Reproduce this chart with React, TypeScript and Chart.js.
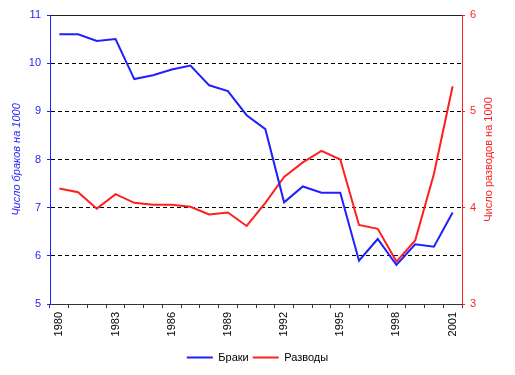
import React, { useEffect, useRef } from "react";
import { Chart, registerables } from "chart.js";

Chart.register(...registerables);

const years = [
  "1980", "1981", "1982", "1983", "1984", "1985", "1986", "1987", "1988", "1989", "1990",
  "1991", "1992", "1993", "1994", "1995", "1996", "1997", "1998", "1999", "2000", "2001",
];
const marriages = [
  10.6, 10.6, 10.46, 10.5, 9.67, 9.75, 9.87, 9.95, 9.54, 9.42, 8.92,
  8.63, 7.11, 7.44, 7.31, 7.31, 5.9, 6.35, 5.81, 6.24, 6.19, 6.9,
];
const divorces = [
  4.2, 4.16, 3.99, 4.14, 4.05, 4.03, 4.03, 4.01, 3.93, 3.95, 3.81,
  4.05, 4.32, 4.47, 4.59, 4.5, 3.82, 3.78, 3.44, 3.66, 4.35, 5.26,
];
const leftTitle = "Число браков на 1000";
const rightTitle = "Число разводов на 1000";
const seriesNames = ["Браки", "Разводы"];

const BLUE = "#1f1fff";
const RED = "#ff1f1f";
const FONT = "'Liberation Sans', Arial, sans-serif";

const framePlugin = {
  id: "frame",
  afterDraw(chart: any) {
    const { ctx, chartArea } = chart;
    ctx.save();
    ctx.strokeStyle = "#222";
    ctx.lineWidth = 1;
    ctx.beginPath();
    ctx.moveTo(chartArea.left, chartArea.top + 0.5);
    ctx.lineTo(chartArea.right, chartArea.top + 0.5);
    ctx.stroke();
    // right axis title, reading bottom-to-top
    ctx.fillStyle = RED;
    ctx.font = `11px ${FONT}`;
    ctx.textAlign = "center";
    ctx.textBaseline = "middle";
    ctx.translate(489, (chartArea.top + chartArea.bottom) / 2);
    ctx.rotate(-Math.PI / 2);
    ctx.fillText(rightTitle, 0, 0);
    ctx.restore();
  },
};

export default function App() {
  const ref = useRef<HTMLCanvasElement | null>(null);
  useEffect(() => {
    if (!ref.current) return;
    const chart = new Chart(ref.current, {
      type: "line",
      data: {
        labels: years,
        datasets: [
          {
            label: seriesNames[0],
            data: marriages,
            borderColor: BLUE,
            backgroundColor: BLUE,
            borderWidth: 2,
            pointRadius: 0,
            tension: 0,
            yAxisID: "y",
          },
          {
            label: seriesNames[1],
            data: divorces,
            borderColor: RED,
            backgroundColor: RED,
            borderWidth: 2,
            pointRadius: 0,
            tension: 0,
            yAxisID: "y2",
          },
        ],
      },
      options: {
        responsive: false,
        animation: false,
        layout: { padding: { top: 15, left: 0, right: 0, bottom: 2 } },
        plugins: {
          legend: {
            position: "bottom",
            labels: {
              usePointStyle: true,
              pointStyle: "line",
              pointStyleWidth: 26,
              color: "#000",
              font: { family: FONT, size: 11 },
              padding: 4,
            },
          },
          tooltip: { enabled: false },
        },
        scales: {
          x: {
            offset: true,
            grid: {
              offset: true,
              drawOnChartArea: false,
              tickLength: 4,
              tickColor: "#333",
            },
            border: { color: "#333", width: 1 },
            ticks: {
              autoSkip: false,
              minRotation: 90,
              maxRotation: 90,
              padding: 4,
              color: "#000",
              font: { family: FONT, size: 11 },
              callback: (_v: any, i: number) => (i % 3 === 0 ? years[i] : ""),
            },
            afterFit: (s: any) => {
              s.height = 44;
            },
          },
          y: {
            position: "left",
            min: 5,
            max: 11,
            ticks: {
              stepSize: 1,
              color: BLUE,
              padding: 6,
              font: { family: FONT, size: 11 },
            },
            grid: {
              color: "#000",
              tickColor: BLUE,
              tickLength: 3,
              tickBorderDash: [],
            },
            border: { color: BLUE, width: 1, dash: [4, 3] },
            title: {
              display: true,
              text: leftTitle,
              color: BLUE,
              font: { family: FONT, size: 11, style: "italic" },
              padding: { top: 10, bottom: 0 },
            },
            afterFit: (s: any) => {
              s.width = 50;
            },
          },
          y2: {
            position: "right",
            min: 3,
            max: 6,
            ticks: {
              stepSize: 1,
              color: RED,
              padding: 5,
              font: { family: FONT, size: 11 },
            },
            grid: {
              drawOnChartArea: false,
              tickColor: RED,
              tickLength: 3,
            },
            border: { color: RED, width: 1 },
            afterFit: (s: any) => {
              s.width = 53;
            },
          },
        },
      },
      plugins: [framePlugin],
    });
    return () => chart.destroy();
  }, []);
  return (
    <div style={{ position: "fixed", left: 0, top: 0, width: 515, height: 375, background: "#fff" }}>
      <canvas ref={ref} width={515} height={375} />
    </div>
  );
}
